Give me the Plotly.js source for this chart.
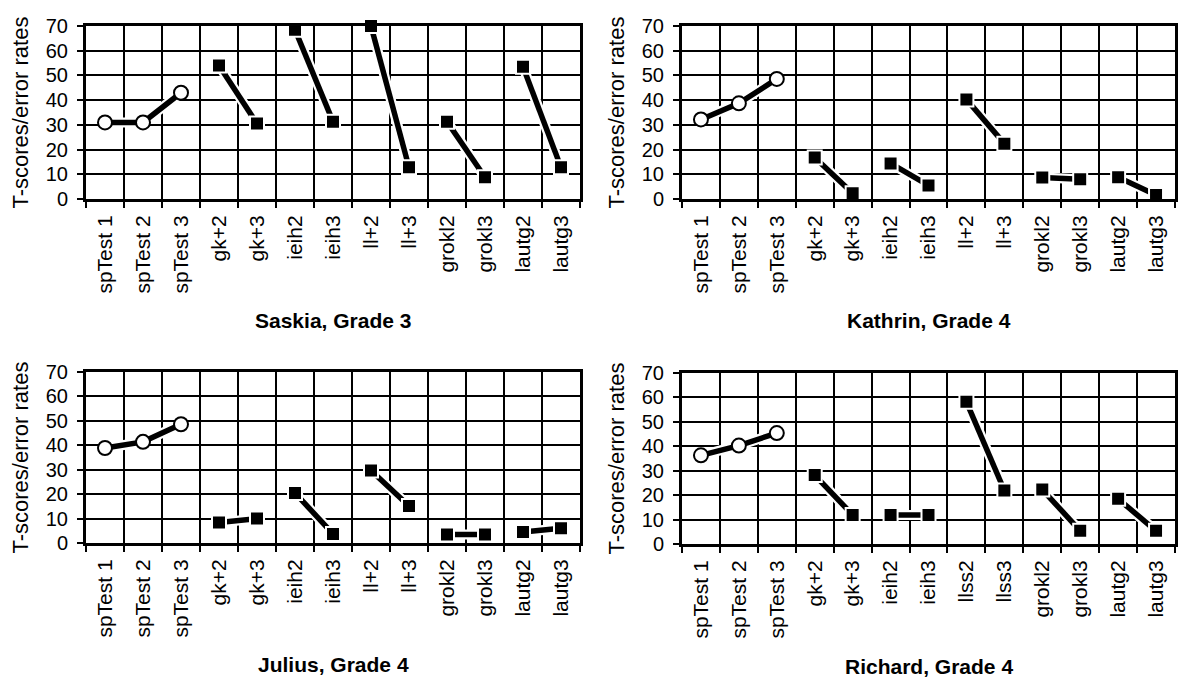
<!DOCTYPE html>
<html>
<head>
<meta charset="utf-8">
<script src="https://cdn.plot.ly/plotly-3.0.1.min.js"></script>
<style>html,body{margin:0;padding:0;background:#fff;}#chart{width:1182px;height:677px;}</style>
</head>
<body>
<div id="chart"></div>
<script>
// ---- data ----
const categoriesStd = ["spTest 1","spTest 2","spTest 3","gk+2","gk+3","ieih2","ieih3","ll+2","ll+3","grokl2","grokl3","lautg2","lautg3"];
const categoriesRichard = ["spTest 1","spTest 2","spTest 3","gk+2","gk+3","ieih2","ieih3","llss2","llss3","grokl2","grokl3","lautg2","lautg3"];
const saskia  = [31, 31, 43, 54, 30.5, 68.5, 31.3, 70, 12.8, 31.3, 8.8, 53.5, 12.8];
const kathrin = [32.2, 38.7, 48.6, 16.8, 2.3, 14.4, 5.5, 40.3, 22.4, 8.7, 8.0, 8.8, 1.6];
const julius  = [38.9, 41.4, 48.6, 8.4, 10.0, 20.5, 3.7, 29.7, 15.1, 3.5, 3.5, 4.5, 6.0];
const richard = [36.3, 40.3, 45.4, 28.2, 11.9, 11.9, 11.9, 58.2, 21.9, 22.3, 5.4, 18.5, 5.4];
const panelTitles = ["Saskia, Grade 3","Kathrin, Grade 4","Julius, Grade 4","Richard, Grade 4"];
const yTitle = "T-scores/error rates";
// groups of connected points: first group = spelling tests (circles), rest = pairs (squares)
const groups = [[0,3],[3,5],[5,7],[7,9],[9,11],[11,13]];

// ---- layout geometry (pixels) ----
const W = 1182, H = 677;
const panels = [
  {vals: saskia,  cats: categoriesStd,     x0: 86,  x1: 580,  y0: 26,  y1: 199, ty: 320},
  {vals: kathrin, cats: categoriesStd,     x0: 682, x1: 1175, y0: 26,  y1: 199, ty: 320},
  {vals: julius,  cats: categoriesStd,     x0: 86,  x1: 580,  y0: 372, y1: 543, ty: 664},
  {vals: richard, cats: categoriesRichard, x0: 682, x1: 1175, y0: 373, y1: 544, ty: 666}
];
const FONT = "Liberation Sans, Arial, Helvetica, sans-serif";

const traces = [];
const layout = {
  width: W, height: H,
  margin: {l:0, r:0, t:0, b:0},
  paper_bgcolor: "#fff", plot_bgcolor: "#fff",
  showlegend: false,
  font: {family: FONT, color: "#000"},
  annotations: []
};

panels.forEach((p, i) => {
  const n = i + 1;
  const xa = n === 1 ? "x" : "x" + n;
  const ya = n === 1 ? "y" : "y" + n;
  groups.forEach((g, gi) => {
    const xs = p.cats.slice(g[0], g[1]);
    const ys = p.vals.slice(g[0], g[1]);
    // white halo under the line
    traces.push({x: xs, y: ys, xaxis: xa, yaxis: ya, type: "scatter", mode: "lines",
      line: {color: "#fff", width: 10}, hoverinfo: "skip", cliponaxis: false});
    const circle = gi === 0;
    traces.push({x: xs, y: ys, xaxis: xa, yaxis: ya, type: "scatter", mode: "lines+markers",
      cliponaxis: false,
      line: {color: "#000", width: 5.5},
      marker: circle
        ? {symbol: "circle", size: 14, color: "#fff", line: {color: "#000", width: 2}}
        : {symbol: "square", size: 14, color: "#000", line: {color: "#fff", width: 2}}
    });
  });
  const xKey = n === 1 ? "xaxis" : "xaxis" + n;
  const yKey = n === 1 ? "yaxis" : "yaxis" + n;
  layout[xKey] = {
    domain: [p.x0 / W, p.x1 / W], anchor: ya,
    type: "category", categoryorder: "array", categoryarray: p.cats,
    range: [-0.5, p.cats.length - 0.5],
    tickson: "boundaries", ticks: "outside", ticklen: 6, tickwidth: 2, tickcolor: "#000",
    showgrid: true, gridcolor: "#000", gridwidth: 2,
    showline: true, linecolor: "#000", linewidth: 3, mirror: true,
    tickangle: -90, tickfont: {family: FONT, size: 21, color: "#000"},
    ticklabelstandoff: 5, fixedrange: true
  };
  layout[yKey] = {
    domain: [1 - p.y1 / H, 1 - p.y0 / H], anchor: xa,
    range: [0, 70], tick0: 0, dtick: 10,
    ticks: "outside", ticklen: 6, tickwidth: 2, tickcolor: "#000",
    showgrid: true, gridcolor: "#000", gridwidth: 2, zeroline: false,
    showline: true, linecolor: "#000", linewidth: 3, mirror: true,
    tickfont: {family: FONT, size: 20, color: "#000"},
    ticklabelstandoff: 5, fixedrange: true
  };
  layout.annotations.push({
    text: "<b>" + panelTitles[i] + "</b>", xref: "paper", yref: "paper",
    x: (p.x0 + p.x1) / 2 / W, y: 1 - p.ty / H, xanchor: "center", yanchor: "middle",
    showarrow: false, font: {family: FONT, size: 21, color: "#000"}
  });
  layout.annotations.push({
    text: yTitle, xref: "paper", yref: "paper", textangle: -90,
    x: (p.x0 - 66) / W, y: 1 - (p.y0 + p.y1) / 2 / H, xanchor: "center", yanchor: "middle",
    showarrow: false, font: {family: FONT, size: 22, color: "#000"}
  });
});

Plotly.newPlot("chart", traces, layout, {displayModeBar: false, staticPlot: true});
</script>
</body>
</html>
